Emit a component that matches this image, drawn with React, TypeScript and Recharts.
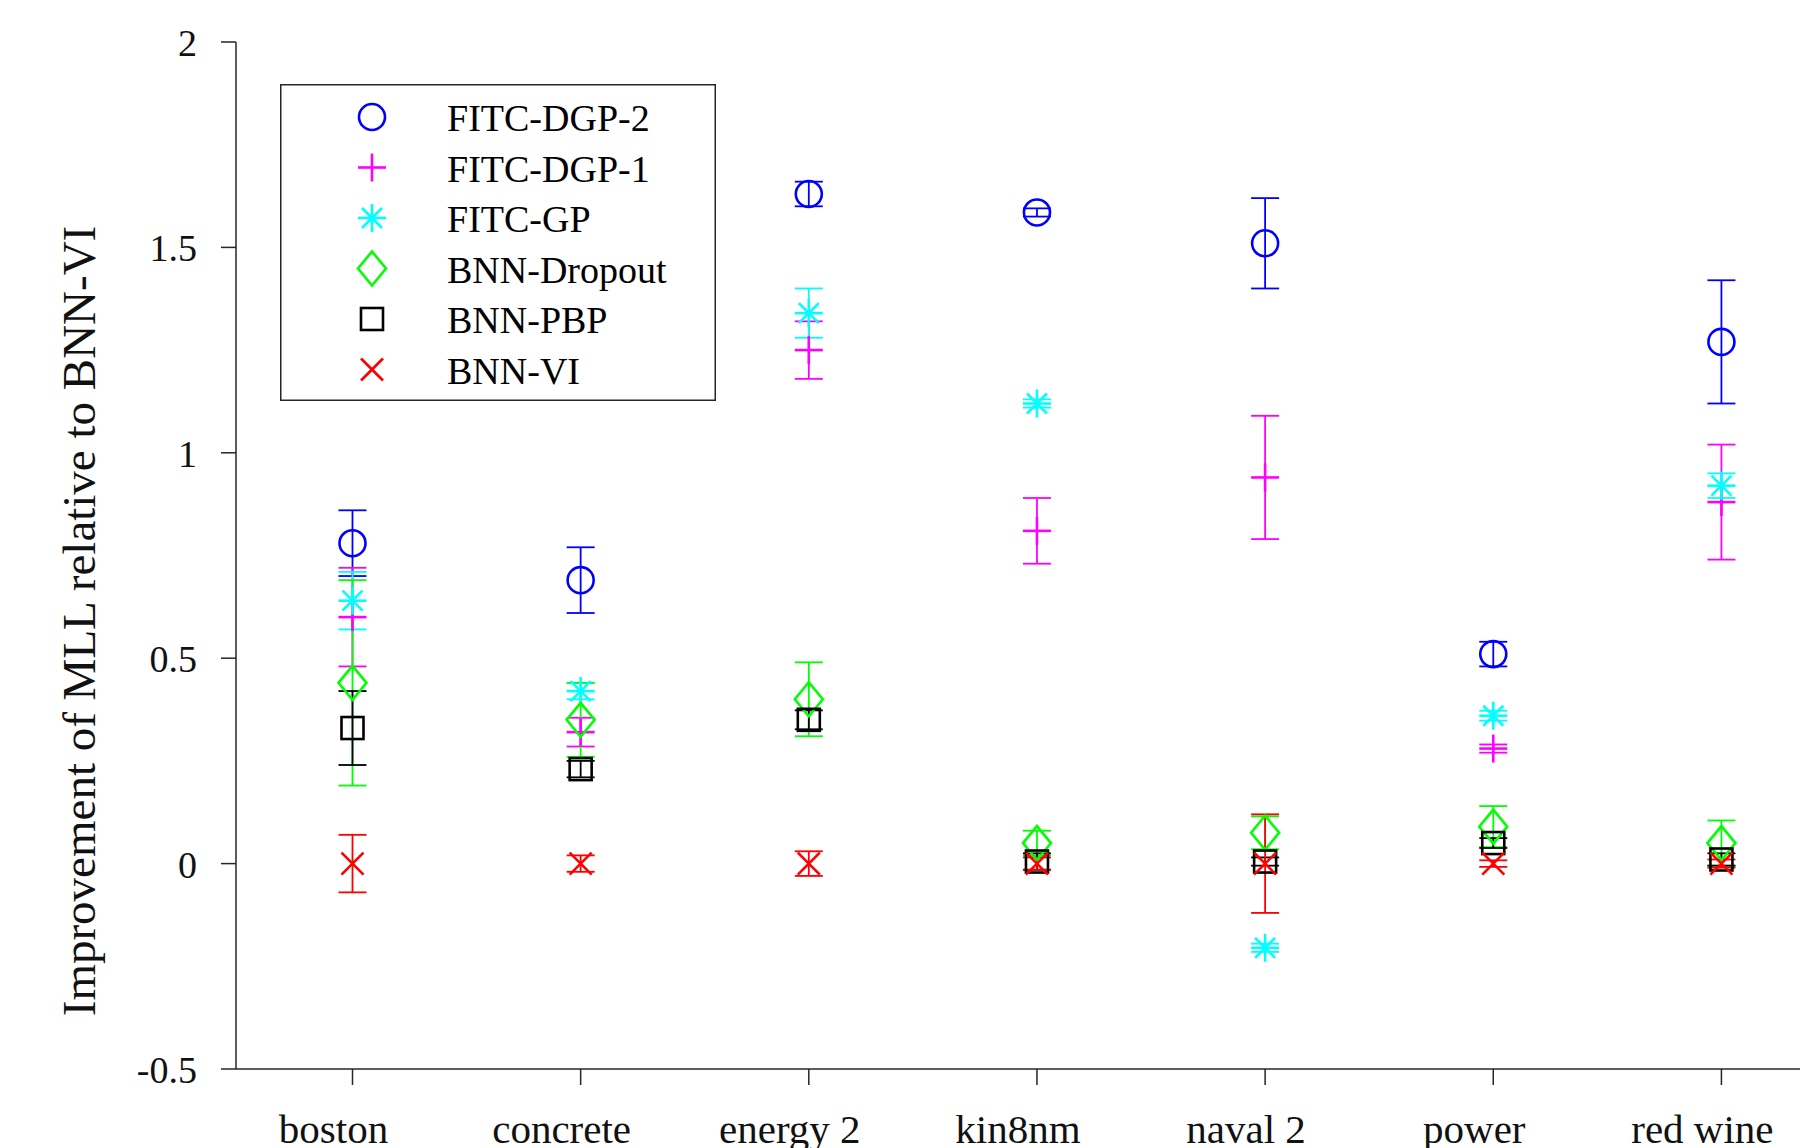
import React from 'react';
import { ComposedChart, Scatter, XAxis, YAxis, ErrorBar, Legend } from 'recharts';

const categories = ['boston', 'concrete', 'energy 2', 'kin8nm', 'naval 2', 'power', 'red wine'];
const xPositions = [1, 2, 3, 4, 5, 6, 7];
const yTicks = [-0.5, 0, 0.5, 1, 1.5, 2];

const dgp2Mean = [0.78, 0.69, 1.63, 1.585, 1.51, 0.51, 1.27];
const dgp2Err = [0.08, 0.08, 0.03, 0.01, 0.11, 0.03, 0.15];
const dgp1Mean = [0.6, 0.32, 1.25, 0.81, 0.94, 0.28, 0.88];
const dgp1Err = [0.12, 0.035, 0.07, 0.08, 0.15, 0.01, 0.14];
const gpMean = [0.64, 0.42, 1.34, 1.12, -0.205, 0.36, 0.92];
const gpErr = [0.07, 0.02, 0.06, 0.01, 0.01, 0.012, 0.03];
const dropoutMean = [0.44, 0.35, 0.4, 0.05, 0.075, 0.09, 0.05];
const dropoutErr = [0.25, 0.09, 0.09, 0.03, 0.04, 0.05, 0.055];
const pbpMean = [0.33, 0.23, 0.35, 0.005, 0.005, 0.05, 0.01];
const pbpErr = [0.09, 0.02, 0.023, 0.02, 0.01, 0.012, 0.015];
const viMean = [0, 0, 0, 0, 0, 0, 0];
const viErr = [0.07, 0.02, 0.03, 0.015, 0.12, 0.008, 0.01];

type Marker = 'circle' | 'plus' | 'asterisk' | 'diamond' | 'square' | 'x';

const series: { name: string; color: string; marker: Marker; mean: number[]; err: number[] }[] = [
  { name: 'FITC-DGP-2', color: '#0000ff', marker: 'circle', mean: dgp2Mean, err: dgp2Err },
  { name: 'FITC-DGP-1', color: '#ff00ff', marker: 'plus', mean: dgp1Mean, err: dgp1Err },
  { name: 'FITC-GP', color: '#00ffff', marker: 'asterisk', mean: gpMean, err: gpErr },
  { name: 'BNN-Dropout', color: '#00ff00', marker: 'diamond', mean: dropoutMean, err: dropoutErr },
  { name: 'BNN-PBP', color: '#000000', marker: 'square', mean: pbpMean, err: pbpErr },
  { name: 'BNN-VI', color: '#ff0000', marker: 'x', mean: viMean, err: viErr },
];

const FONT = '"Liberation Serif", "Times New Roman", serif';
const AXIS = '#262626';
const SW = 2.6;

function drawMarker(marker: Marker, color: string, cx: number, cy: number) {
  const common = { stroke: color, strokeWidth: SW, fill: 'none' };
  switch (marker) {
    case 'circle':
      return <circle cx={cx} cy={cy} r={13} {...common} />;
    case 'plus':
      return (
        <g {...common}>
          <line x1={cx - 14} y1={cy} x2={cx + 14} y2={cy} />
          <line x1={cx} y1={cy - 14} x2={cx} y2={cy + 14} />
        </g>
      );
    case 'asterisk':
      return (
        <g {...common}>
          <line x1={cx - 14} y1={cy} x2={cx + 14} y2={cy} />
          <line x1={cx} y1={cy - 14} x2={cx} y2={cy + 14} />
          <line x1={cx - 10} y1={cy - 10} x2={cx + 10} y2={cy + 10} />
          <line x1={cx - 10} y1={cy + 10} x2={cx + 10} y2={cy - 10} />
        </g>
      );
    case 'diamond':
      return (
        <polygon
          points={`${cx},${cy - 17} ${cx + 14},${cy} ${cx},${cy + 17} ${cx - 14},${cy}`}
          {...common}
        />
      );
    case 'square':
      return <rect x={cx - 11} y={cy - 11} width={22} height={22} {...common} />;
    case 'x':
      return (
        <g {...common}>
          <line x1={cx - 11} y1={cy - 11} x2={cx + 11} y2={cy + 11} />
          <line x1={cx - 11} y1={cy + 11} x2={cx + 11} y2={cy - 11} />
        </g>
      );
  }
  return null;
}

const XTick = (props: any) => {
  const { x, y, payload } = props;
  return (
    <text x={x - 19} y={y + 58} textAnchor="middle" fontFamily={FONT} fontSize={41} fill="#111">
      {categories[Math.round(payload.value) - 1]}
    </text>
  );
};

const YTick = (props: any) => {
  const { x, y, payload } = props;
  return (
    <text x={x - 24} y={y + 14} textAnchor="end" fontFamily={FONT} fontSize={38} fill="#111">
      {String(payload.value)}
    </text>
  );
};

const LegendBox = () => {
  const w = 436;
  const h = 317;
  return (
    <svg width={w} height={h} style={{ display: 'block' }}>
      <rect x={0.75} y={0.75} width={w - 1.5} height={h - 1.5} fill="#fff" stroke={AXIS} strokeWidth={1.5} />
      {series.map((s, i) => {
        const cy = 33 + i * 50.5;
        return (
          <g key={s.name}>
            {drawMarker(s.marker, s.color, 92, cy)}
            <text x={167} y={cy + 14} fontFamily={FONT} fontSize={38} fill="#000">
              {s.name}
            </text>
          </g>
        );
      })}
    </svg>
  );
};

const YLabel = () => (
  <text
    x={95}
    y={621}
    transform="rotate(-90, 95, 621)"
    textAnchor="middle"
    fontFamily={FONT}
    fontSize={47}
    fill="#111"
  >
    Improvement of MLL relative to BNN-VI
  </text>
);

export default function App() {
  return (
    <div style={{ position: 'absolute', left: 0, top: 0, width: 1800, height: 1148, background: '#fff' }}>
      <ComposedChart width={1800} height={1148} margin={{ top: 42, right: 0, bottom: 0, left: 0 }}>
        <XAxis
          dataKey="x"
          type="number"
          domain={[0.4894, 7.3444]}
          ticks={xPositions}
          allowDataOverflow
          height={79}
          tickSize={16}
          tickMargin={0}
          axisLine={{ stroke: AXIS, strokeWidth: 1.5 }}
          tickLine={{ stroke: AXIS, strokeWidth: 1.5 }}
          tick={<XTick />}
          interval={0}
        />
        <YAxis
          type="number"
          domain={[-0.5, 2]}
          ticks={yTicks}
          width={236}
          tickSize={15}
          tickMargin={0}
          axisLine={{ stroke: AXIS, strokeWidth: 1.5 }}
          tickLine={{ stroke: AXIS, strokeWidth: 1.5 }}
          tick={<YTick />}
          interval={0}
          label={{ content: () => <YLabel /> }}
        />
        {series.map((s) => (
          <Scatter
            key={s.name}
            name={s.name}
            data={xPositions.map((x, i) => ({ x, y: s.mean[i], err: s.err[i] }))}
            dataKey="y"
            isAnimationActive={false}
            shape={(p: any) => drawMarker(s.marker, s.color, p.cx, p.cy)}
          >
            <ErrorBar dataKey="err" direction="y" width={14} stroke={s.color} strokeWidth={1.8} />
          </Scatter>
        ))}
        <Legend
          layout="vertical"
          align="center"
          verticalAlign="middle"
          wrapperStyle={{ position: 'absolute', left: 280, top: 84, width: 436, height: 317 }}
          content={() => <LegendBox />}
        />
      </ComposedChart>
    </div>
  );
}
